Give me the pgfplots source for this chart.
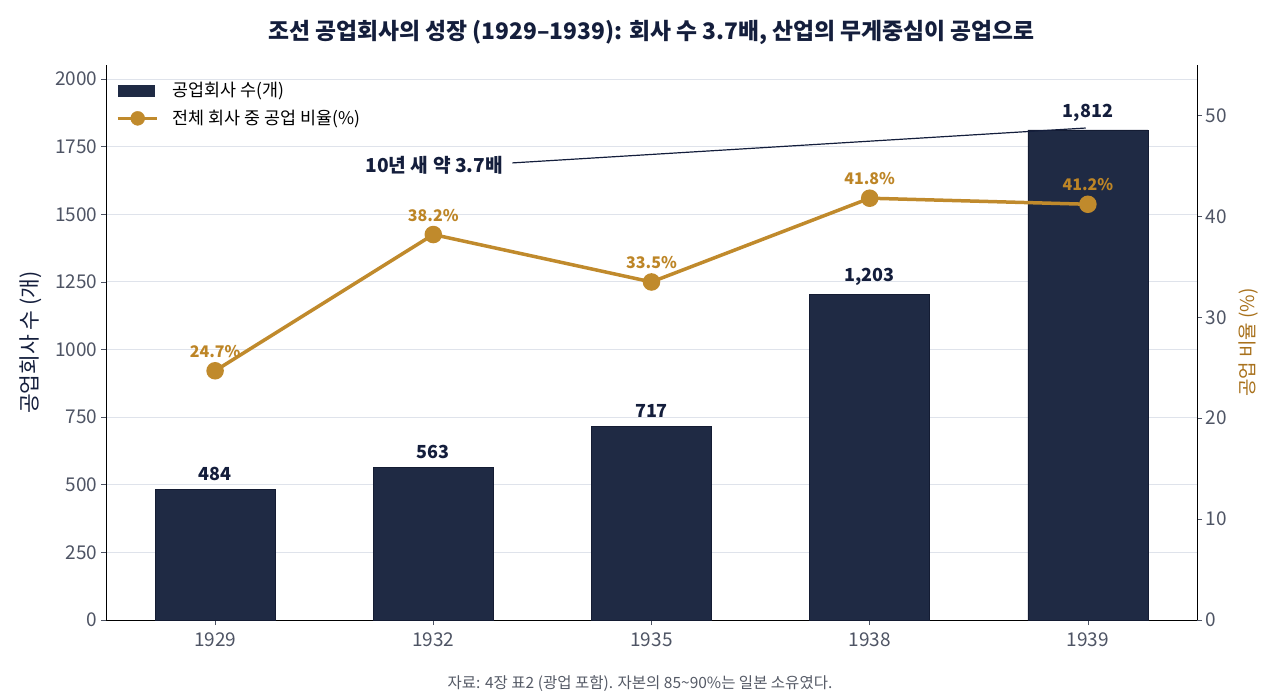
\documentclass[border=0pt]{standalone}
\usepackage{fontspec}
\setmainfont{Noto Sans CJK KR}
\usepackage{pgfplots}
\pgfplotsset{compat=1.18}
\definecolor{navy}{HTML}{1F2A44}
\definecolor{navyedge}{HTML}{141C33}
\definecolor{navytxt}{HTML}{141E3C}
\definecolor{gold}{HTML}{C08A2C}
\definecolor{goldtxt}{HTML}{BD8526}
\definecolor{goldlab}{HTML}{A8711C}
\definecolor{ticktxt}{HTML}{4E5464}
\definecolor{gridc}{HTML}{DFE3EB}
\definecolor{foottxt}{HTML}{555A66}
\begin{document}
\begin{tikzpicture}
\begin{axis}[name=main, scale only axis, width=1091pt, height=555pt,
  xmin=-0.5, xmax=4.5, ymin=0, ymax=2052,
  xtick={0,1,2,3,4}, xticklabels={1929,1932,1935,1938,1939},
  ytick={0,250,...,2000},
  axis y line*=left, axis x line*=bottom,
  axis line style={black, line width=1pt},
  ymajorgrids, grid style={gridc, line width=1pt},
  tick align=outside, major tick length=5pt,
  tick style={ticktxt, line width=0.8pt},
  ticklabel style={font=\fontsize{19}{19}\selectfont, text=ticktxt},
  xticklabel style={yshift=-4pt},
  /pgf/number format/assume math mode=true,
  scaled y ticks=false, yticklabel style={/pgf/number format/1000 sep={}},
  ylabel={공업회사 수 (개)}, ylabel style={font=\fontsize{21.5}{21.5}\selectfont, text=navytxt, yshift=7pt},
  legend style={at={([xshift=-5pt,yshift=-5pt]rel axis cs:0.008,0.985)}, anchor=north west, draw=none, fill=none,
    font=\fontsize{17.4}{17.4}\selectfont, row sep=8pt, inner xsep=6pt},
  legend cell align=left,
  clip=false,
]
\addplot[fill=navy, draw=navyedge, line width=0.6pt, ybar, bar width=0.55,
  point meta=explicit symbolic,
  nodes near coords, every node near coord/.append style={font=\bfseries\fontsize{18}{18}\selectfont, text=navytxt, anchor=south, yshift=5pt},
  legend image code/.code={\path[draw=none,fill=none] (0pt,-0.1pt) rectangle (52pt,0.1pt); \fill[navy] (0pt,-5.5pt) rectangle (36pt,5.5pt);}]
  coordinates {(0,484) [484] (1,563) [563] (2,717) [717] (3,1203) [{1,203}] (4,1812) [{1,812}]};
\addlegendentry{공업회사 수(개)}
\addlegendimage{legend image code/.code={\path[draw=none,fill=none] (0pt,-0.1pt) rectangle (52pt,0.1pt); \draw[gold, line width=3.5pt] (-1pt,0pt) -- (38pt,0pt); \fill[gold] (19pt,0pt) circle (7pt);}}
\addlegendentry{전체 회사 중 공업 비율(\%)}
\draw[navytxt, line width=1.2pt] (axis cs:1.362,1690) -- (axis cs:3.99,1819);
\node[font=\bfseries\fontsize{19.2}{19.2}\selectfont, text=navytxt, anchor=east] at (axis cs:1.335,1682) {10년 새 약 3.7배};
\end{axis}
\begin{axis}[at={(main.south west)}, anchor=south west, scale only axis, width=1091pt, height=555pt,
  xmin=-0.5, xmax=4.5, ymin=0, ymax=55,
  ytick={0,10,...,50},
  axis y line*=right, axis x line=none,
  axis line style={black, line width=1pt},
  tick align=outside, major tick length=5pt,
  tick style={ticktxt, line width=0.8pt},
  ticklabel style={font=\fontsize{19}{19}\selectfont, text=ticktxt},
  /pgf/number format/assume math mode=true,
  ylabel={공업 비율 (\%)}, ylabel style={font=\fontsize{19}{19}\selectfont, text=goldlab, yshift=-5pt},
  clip=false,
]
\addplot[gold, line width=3.5pt, mark=*, mark size=7pt, mark options={solid, fill=gold, draw=none},
  point meta=explicit symbolic,
  nodes near coords, every node near coord/.append style={font=\bfseries\fontsize{16}{16}\selectfont, text=goldtxt, anchor=south, yshift=8pt}]
  coordinates {(0,24.7) [24.7\%] (1,38.2) [38.2\%] (2,33.5) [33.5\%] (3,41.8) [41.8\%] (4,41.2) [41.2\%]};
\end{axis}
\node[font=\bfseries\fontsize{22.8}{22.8}\selectfont, text=navytxt] at ([yshift=33pt]main.north) {조선 공업회사의 성장 (1929–1939): 회사 수 3.7배, 산업의 무게중심이 공업으로};
\node[font=\fontsize{15.5}{15.5}\selectfont, text=foottxt] at ([xshift=-11.5pt,yshift=-64pt]main.south) {자료: 4장 표2 (광업 포함). 자본의 85\textasciitilde90\%는 일본 소유였다.};
\path[use as bounding box] ([xshift=-106pt,yshift=-73pt]main.south west) rectangle ([xshift=83pt,yshift=65pt]main.north east);
\end{tikzpicture}
\end{document}
